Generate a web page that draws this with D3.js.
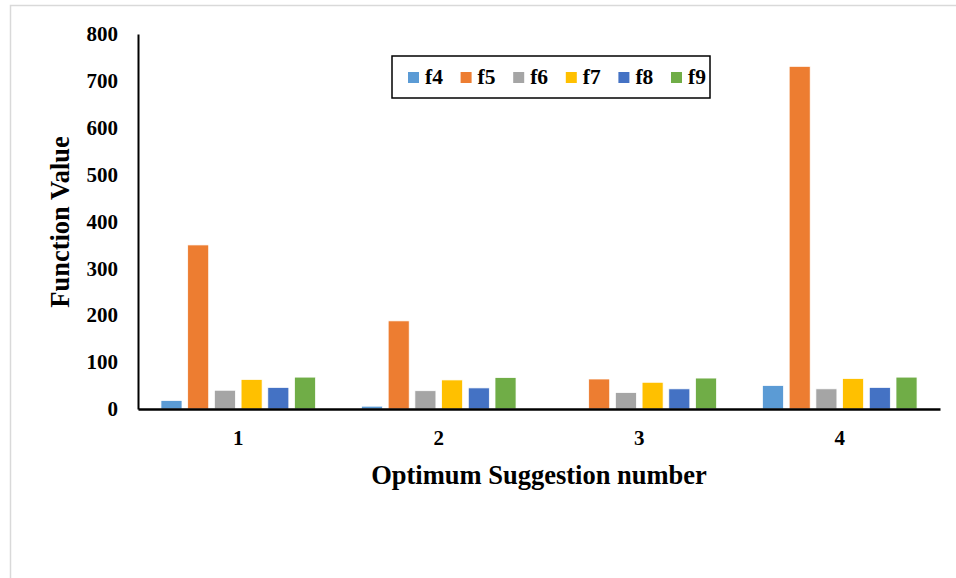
<!DOCTYPE html>
<html>
<head>
<meta charset="utf-8">
<script src="https://cdn.jsdelivr.net/npm/d3@7"></script>
<style>
  html, body { margin: 0; padding: 0; background: #fff; }
  svg { display: block; }
  text { font-family: "Liberation Serif", "Times New Roman", serif; font-weight: bold; fill: #000; }
</style>
</head>
<body>
<svg id="chart" width="956" height="578"></svg>
<script>
const categories = ["1", "2", "3", "4"];
const seriesNames = ["f4", "f5", "f6", "f7", "f8", "f9"];
const f4 = [18, 6, 0, 50];
const f5 = [350, 188, 64, 731];
const f6 = [40, 39, 35, 43];
const f7 = [63, 62, 57, 65];
const f8 = [46, 45, 43, 46];
const f9 = [68, 67, 66, 68];
const seriesValues = [f4, f5, f6, f7, f8, f9];
const colors = ["#5b9bd5", "#ed7d31", "#a5a5a5", "#ffc000", "#4472c4", "#70ad47"];
const yTicks = [0, 100, 200, 300, 400, 500, 600, 700, 800];

const svg = d3.select("#chart");

// outer chart frame
svg.append("rect")
  .attr("x", 10.5).attr("y", 5.5)
  .attr("width", 960).attr("height", 600)
  .attr("fill", "none").attr("stroke", "#d9d9d9").attr("stroke-width", 1.5);

const mLeft = 138, mRight = 940, mTop = 34, mBottom = 409;

const x0 = d3.scaleBand().domain(categories).range([mLeft, mRight]).paddingInner(0).paddingOuter(0);
const x1 = d3.scaleBand().domain(seriesNames).range([0, x0.bandwidth()]).paddingInner(0.213).paddingOuter(0.86);
const y = d3.scaleLinear().domain([0, 800]).range([mBottom, mTop]);

// bars
seriesNames.forEach((s, si) => {
  svg.append("g").selectAll("rect")
    .data(categories.map((c, ci) => ({ c, v: seriesValues[si][ci] })))
    .join("rect")
    .attr("x", d => x0(d.c) + x1(s))
    .attr("width", x1.bandwidth())
    .attr("y", d => y(d.v))
    .attr("height", d => y(0) - y(d.v))
    .attr("fill", colors[si])
    .attr("stroke", "#fff").attr("stroke-width", 0.75);
});

// y axis
const yAxis = svg.append("g")
  .attr("transform", `translate(${mLeft},0)`)
  .call(d3.axisLeft(y).tickValues(yTicks).tickSize(0).tickPadding(20));
yAxis.select(".domain").attr("stroke", "#000").attr("stroke-width", 2);
yAxis.selectAll("text").attr("font-size", 21).style("font-family", "'Liberation Serif', serif").style("font-weight", "bold");

// x axis
const xAxis = svg.append("g")
  .attr("transform", `translate(0,${mBottom})`)
  .call(d3.axisBottom(x0).tickSize(0).tickPadding(21));
xAxis.select(".domain").attr("stroke", "#000").attr("stroke-width", 2.5);
xAxis.selectAll("text").attr("font-size", 21).style("font-family", "'Liberation Serif', serif").style("font-weight", "bold");

// axis titles
svg.append("text")
  .attr("x", (mLeft + mRight) / 2).attr("y", 484)
  .attr("text-anchor", "middle").attr("font-size", 26.5)
  .text("Optimum Suggestion number");

svg.append("text")
  .attr("transform", "translate(69,222) rotate(-90)")
  .attr("text-anchor", "middle").attr("font-size", 26.5)
  .text("Function Value");

// legend
const lg = svg.append("g");
lg.append("rect")
  .attr("x", 392).attr("y", 56).attr("width", 318).attr("height", 42)
  .attr("fill", "#fff").attr("stroke", "#000").attr("stroke-width", 1.5);
seriesNames.forEach((s, i) => {
  const gx = 408 + i * 52.6;
  lg.append("rect").attr("x", gx).attr("y", 72).attr("width", 11).attr("height", 11).attr("fill", colors[i]);
  lg.append("text").attr("x", gx + 17).attr("y", 84).attr("font-size", 21.5).text(s);
});
</script>
</body>
</html>
